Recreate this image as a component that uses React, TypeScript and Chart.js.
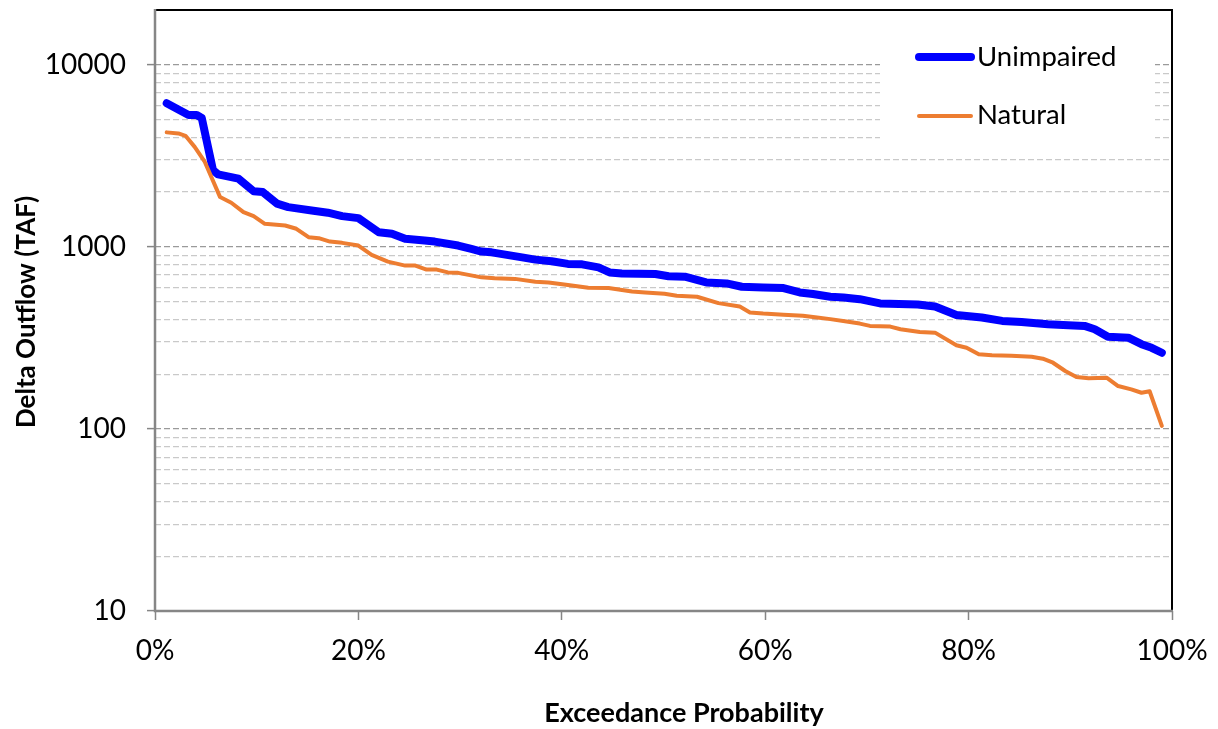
import React, { useEffect, useRef } from 'react';
import { Chart, registerables } from 'chart.js';

Chart.register(...registerables);

const seriesNames = ['Unimpaired', 'Natural'];
const seriesColors = ['#0000FF', '#ED7D31'];
const xTitle = 'Exceedance Probability';
const yTitle = 'Delta Outflow (TAF)';

// Exceedance probability (%) and flow (TAF)
const unimpairedProb = [1.15, 3.3, 4.1, 4.6, 5.7, 6.2, 8.2, 9.7, 10.6, 12.0, 13.1, 15.4, 17.0, 18.4, 20.0, 20.8, 22.0, 23.3, 24.6, 26.5, 27.5, 29.8, 31.1, 32.1, 33.1, 36.1, 37.4, 39.0, 40.6, 42.0, 43.6, 44.7, 45.9, 49.2, 50.5, 52.1, 54.2, 56.2, 57.7, 59.8, 61.8, 63.4, 64.7, 66.4, 67.7, 69.3, 71.3, 75.0, 76.7, 78.8, 81.3, 83.3, 85.2, 87.8, 89.8, 91.4, 92.4, 93.7, 95.7, 97.0, 98.0, 99.0];
const unimpairedFlow = [6150, 5300, 5300, 5100, 2640, 2500, 2370, 2020, 2000, 1727, 1653, 1585, 1540, 1475, 1438, 1339, 1204, 1180, 1107, 1083, 1069, 1017, 975, 942, 933, 876, 851, 833, 806, 802, 772, 724, 715, 710, 690, 686, 638, 630, 604, 599, 594, 562, 551, 532, 527, 516, 489, 482, 470, 422, 409, 392, 387, 376, 371, 368, 353, 321, 317, 292, 279, 262];

const naturalProb = [1.15, 2.3, 3.0, 3.9, 4.9, 6.4, 7.5, 8.7, 9.7, 10.8, 12.8, 13.9, 15.1, 16.1, 17.2, 18.4, 20.0, 21.3, 22.9, 24.6, 25.6, 26.7, 27.7, 28.8, 29.8, 32.1, 33.4, 35.4, 37.4, 38.7, 40.6, 42.6, 44.6, 46.9, 48.2, 50.1, 51.3, 53.3, 55.4, 57.5, 58.5, 59.8, 61.8, 63.7, 65.1, 66.4, 68.0, 69.3, 70.3, 72.3, 73.3, 75.2, 76.7, 78.8, 79.8, 81.0, 82.3, 84.2, 86.2, 87.3, 88.3, 89.5, 90.6, 91.8, 93.6, 94.7, 96.0, 97.0, 97.8, 99.0];
const naturalFlow = [4255, 4200, 4074, 3543, 2928, 1877, 1748, 1551, 1475, 1339, 1311, 1257, 1130, 1116, 1069, 1052, 1017, 903, 830, 789, 789, 750, 750, 724, 720, 680, 672, 667, 644, 638, 617, 596, 594, 569, 562, 553, 539, 532, 491, 470, 436, 430, 424, 418, 409, 401, 389, 379, 368, 365, 353, 341, 338, 288, 279, 257, 254, 252, 249, 243, 231, 208, 193, 190, 191, 172, 165, 158, 161, 104];

const yTickValues = [10, 20, 30, 40, 50, 60, 70, 80, 90, 100, 200, 300, 400, 500, 600, 700, 800, 900, 1000, 2000, 3000, 4000, 5000, 6000, 7000, 8000, 9000, 10000, 20000];
const yMajorLabels = [10, 100, 1000, 10000];
const xTickValues = [0, 20, 40, 60, 80, 100];

const FONT = 'Lato';
const AXIS_GRAY = '#868686';

const isMajor = (v: number) => yMajorLabels.includes(v);

const decorPlugin = {
  id: 'decor',
  beforeDatasetsDraw(chart: any) {
    const { ctx, chartArea: a } = chart;
    ctx.save();
    // legend background box (hides gridlines)
    ctx.fillStyle = '#ffffff';
    ctx.fillRect(880, 22, 275, 124);
    // frame
    ctx.lineWidth = 2;
    ctx.strokeStyle = '#000000';
    ctx.beginPath();
    ctx.moveTo(a.left, a.top);
    ctx.lineTo(a.right, a.top);
    ctx.lineTo(a.right, a.bottom);
    ctx.stroke();
    ctx.strokeStyle = AXIS_GRAY;
    ctx.lineWidth = 2.5;
    ctx.beginPath();
    ctx.moveTo(a.left, a.top - 1);
    ctx.lineTo(a.left, a.bottom);
    ctx.lineTo(a.right + 1, a.bottom);
    ctx.stroke();
    ctx.restore();
  },
  afterDraw(chart: any) {
    const { ctx } = chart;
    ctx.save();
    // axis titles
    ctx.fillStyle = '#000000';
    ctx.textAlign = 'center';
    ctx.textBaseline = 'alphabetic';
    ctx.font = `bold 27px ${FONT}`;
    ctx.fillText(xTitle, 684, 722);
    ctx.save();
    ctx.font = `bold 26px ${FONT}`;
    ctx.translate(35, 312);
    ctx.rotate(-Math.PI / 2);
    ctx.fillText(yTitle, 0, 0);
    ctx.restore();
    // legend
    const items = [
      { y: 57, baseline: 66, width: 8 },
      { y: 116, baseline: 124, width: 4 },
    ];
    items.forEach((it, i) => {
      const ds = chart.data.datasets[i];
      ctx.strokeStyle = ds.borderColor;
      ctx.lineWidth = it.width;
      ctx.lineCap = 'round';
      ctx.beginPath();
      ctx.moveTo(919, it.y);
      ctx.lineTo(971, it.y);
      ctx.stroke();
      ctx.fillStyle = '#000000';
      ctx.font = `27.5px ${FONT}`;
      ctx.textAlign = 'left';
      ctx.fillText(ds.label, 977, it.baseline);
    });
    ctx.restore();
  },
};

export default function App() {
  const canvasRef = useRef<HTMLCanvasElement | null>(null);

  useEffect(() => {
    document.body.style.margin = '0';
    const canvas = canvasRef.current;
    if (!canvas) return;

    const chart = new Chart(canvas, {
      type: 'line',
      data: {
        datasets: [
          {
            label: seriesNames[0],
            data: unimpairedProb.map((p, i) => ({ x: p, y: unimpairedFlow[i] })),
            borderColor: seriesColors[0],
            backgroundColor: seriesColors[0],
            borderWidth: 8,
            pointRadius: 0,
            tension: 0,
            borderJoinStyle: 'round',
            borderCapStyle: 'round',
            order: 2,
          },
          {
            label: seriesNames[1],
            data: naturalProb.map((p, i) => ({ x: p, y: naturalFlow[i] })),
            borderColor: seriesColors[1],
            backgroundColor: seriesColors[1],
            borderWidth: 4,
            pointRadius: 0,
            tension: 0,
            borderJoinStyle: 'round',
            borderCapStyle: 'round',
            order: 1,
          },
        ],
      },
      options: {
        responsive: false,
        animation: false,
        layout: { padding: { left: 0, top: 10, right: 46, bottom: 0 } },
        plugins: {
          legend: { display: false },
          tooltip: { enabled: false },
          title: { display: false },
        },
        scales: {
          x: {
            type: 'linear',
            min: 0,
            max: 100,
            afterBuildTicks: (scale: any) => {
              scale.ticks = xTickValues.map((v) => ({ value: v }));
            },
            afterFit: (scale: any) => {
              scale.height = 118;
              scale.paddingLeft = 0;
              scale.paddingRight = 0;
            },
            border: { display: false },
            grid: {
              drawOnChartArea: false,
              drawTicks: true,
              tickLength: 9,
              tickColor: AXIS_GRAY,
              tickWidth: 1.5,
            },
            ticks: {
              autoSkip: false,
              maxRotation: 0,
              padding: 14,
              color: '#000000',
              font: { family: FONT, size: 28 },
              callback: (v: any) => `${v}%`,
            },
          },
          y: {
            type: 'logarithmic',
            min: 10,
            max: 20000,
            afterBuildTicks: (scale: any) => {
              scale.ticks = yTickValues.map((v) => ({ value: v, major: isMajor(v) }));
            },
            afterFit: (scale: any) => {
              scale.width = 155;
              scale.paddingTop = 0;
              scale.paddingBottom = 0;
            },
            border: { display: false, dash: [6, 3] },
            grid: {
              drawOnChartArea: true,
              drawTicks: true,
              tickLength: 8,
              lineWidth: 1.2,
              color: (ctx: any) => {
                const v = ctx.tick ? ctx.tick.value : 0;
                if (v === 10 || v === 20000) return 'rgba(0,0,0,0)';
                return isMajor(v) ? '#9a9a9a' : '#c9c9c9';
              },
              tickColor: (ctx: any) => {
                const v = ctx.tick ? ctx.tick.value : 0;
                return isMajor(v) ? AXIS_GRAY : 'rgba(0,0,0,0)';
              },
              tickWidth: 1.5,
              tickBorderDash: [],
            },
            ticks: {
              autoSkip: false,
              padding: 21,
              color: '#000000',
              font: { family: FONT, size: 28 },
              callback: (v: any) => (isMajor(Number(v)) ? String(v) : ''),
            },
          },
        },
      },
      plugins: [decorPlugin],
    } as any);

    return () => {
      chart.destroy();
    };
  }, []);

  return (
    <div style={{ width: 1218, height: 729 }}>
      <canvas ref={canvasRef} width={1218} height={729} style={{ display: 'block' }} />
    </div>
  );
}
